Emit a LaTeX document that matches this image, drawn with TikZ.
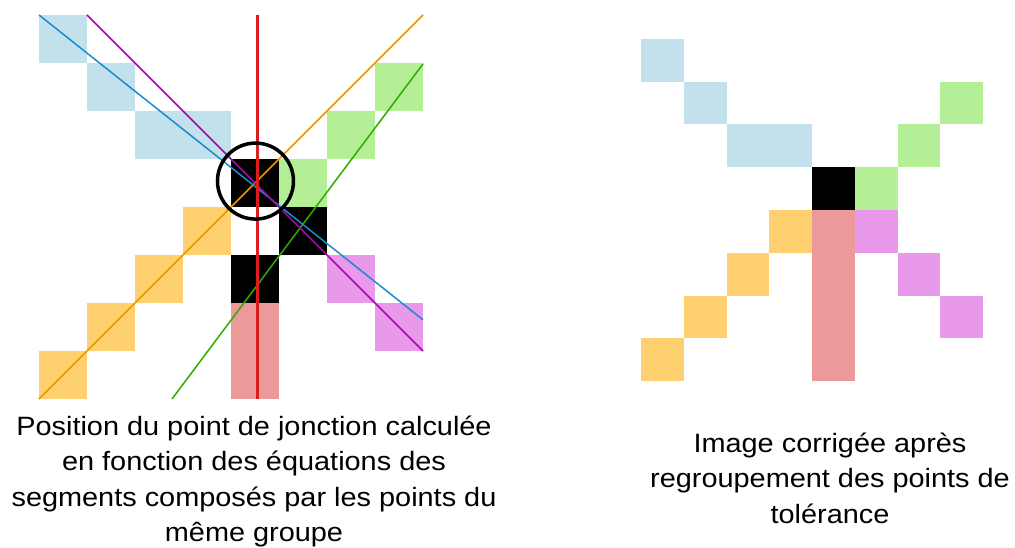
\documentclass[tikz,border=0pt]{standalone}
\usepackage{fontspec}
\setmainfont{Liberation Sans}
\newfontfamily\capfont[FakeStretch=1.09]{Liberation Sans}
\definecolor{cblue}{HTML}{C3E0ED}
\definecolor{cgreen}{HTML}{B4EE96}
\definecolor{corange}{HTML}{FFD070}
\definecolor{cpink}{HTML}{E899EA}
\definecolor{csalmon}{HTML}{EC9999}
\definecolor{lblue}{HTML}{1A8CCC}
\definecolor{lmagenta}{HTML}{B000B8}
\definecolor{lorange}{HTML}{E39A00}
\definecolor{lgreen}{HTML}{33AA00}
\definecolor{lred}{HTML}{DD1C1C}
\begin{document}
\begin{tikzpicture}[
        x=1pt,y=-1pt,
        seg/.style={line width=1.5pt,line cap=butt},
        junction/.style={circle,draw=black,line width=3.5pt,inner sep=0pt,minimum size=76pt},
        caption/.style={align=center,inner sep=0pt,font=\capfont\fontsize{26.5}{35.5}\selectfont}
    ]
    \useasboundingbox (0,0) rectangle (1015,548);
    % left grid : segments and junction point
    \begin{scope}[shift={(39,15)},x=48pt,y=-48pt]
        \foreach \c/\r in {0/0,1/1,2/2,3/2} \fill[cblue] (\c,\r) rectangle ++(1,1);
        \foreach \c/\r in {7/1,6/2,5/3} \fill[cgreen] (\c,\r) rectangle ++(1,1);
        \foreach \c/\r in {3/4,2/5,1/6,0/7} \fill[corange] (\c,\r) rectangle ++(1,1);
        \foreach \c/\r in {6/5,7/6} \fill[cpink] (\c,\r) rectangle ++(1,1);
        \foreach \c/\r in {4/6,4/7} \fill[csalmon] (\c,\r) rectangle ++(1,1);
        \foreach \c/\r in {4/3,5/4,4/5} \fill[black] (\c,\r) rectangle ++(1,1);
        \coordinate (ob) at (0,8);
        \coordinate (ot) at (8,0);
        \coordinate (gb) at (2.77,8);
        \coordinate (gt) at (8,1.02);
        \coordinate (bt) at (0,0);
        \coordinate (bb) at (8,6.35);
        \coordinate (mt) at (1,0);
        \coordinate (mb) at (8,7);
        \coordinate (rt) at (4.55,0);
        \coordinate (rb) at (4.55,8);
        \draw[seg,lorange] (ob) -- (ot);
        \draw[seg,lgreen] (gb) -- (gt);
        \draw[seg,lblue] (bt) -- (bb);
        \draw[seg,lmagenta] (mt) -- (mb);
        \draw[lred,line width=2.6pt] (rt) -- (rb);
        \node[junction] (jp) at (4.51,3.46) {};
    \end{scope}
    % right grid : corrected image
    \begin{scope}[shift={(641,39)},x=42.75pt,y=-42.75pt]
        \foreach \c/\r in {0/0,1/1,2/2,3/2} \fill[cblue] (\c,\r) rectangle ++(1,1);
        \foreach \c/\r in {7/1,6/2,5/3} \fill[cgreen] (\c,\r) rectangle ++(1,1);
        \foreach \c/\r in {3/4,2/5,1/6,0/7} \fill[corange] (\c,\r) rectangle ++(1,1);
        \foreach \c/\r in {5/4,6/5,7/6} \fill[cpink] (\c,\r) rectangle ++(1,1);
        \foreach \r in {4,...,7} \fill[csalmon] (4,\r) rectangle ++(1,1);
        \fill[black] (4,3) rectangle ++(1,1);
    \end{scope}
    \node[caption,anchor=base] (capleft) at (254,541.5)
        {Position du point de jonction calculée\\en fonction des équations des\\segments composés par les points du\\même groupe};
    \node[caption,anchor=base] (capright) at (830,523)
        {Image corrigée après\\regroupement des points de\\tolérance};
\end{tikzpicture}
\end{document}
